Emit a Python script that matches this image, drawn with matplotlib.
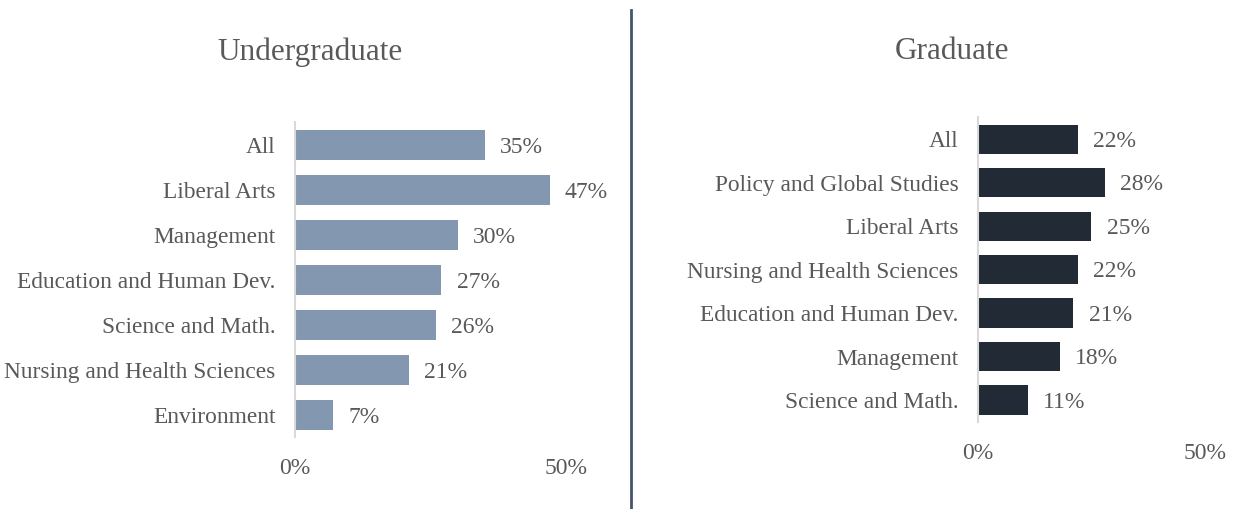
import matplotlib.pyplot as plt
from matplotlib.lines import Line2D

ug_labels = ['All', 'Liberal Arts', 'Management', 'Education and Human Dev.',
             'Science and Math.', 'Nursing and Health Sciences', 'Environment']
ug_values = [35, 47, 30, 27, 26, 21, 7]

gr_labels = ['All', 'Policy and Global Studies', 'Liberal Arts',
             'Nursing and Health Sciences', 'Education and Human Dev.',
             'Management', 'Science and Math.']
gr_values = [22, 28, 25, 22, 21, 18, 11]

plt.rcParams['font.family'] = ['Liberation Serif', 'DejaVu Serif']
text_color = '#595959'

fig = plt.figure(figsize=(12.37, 5.09), dpi=100)


def draw_panel(ax, labels, values, color):
    y = list(range(len(labels)))
    ax.barh(y, values, height=0.67, color=color)
    ax.set_ylim(len(labels) - 0.5, -0.5)
    ax.set_xlim(0, 50)
    ax.set_yticks(y)
    ax.set_yticklabels(labels, fontsize=16.8, color=text_color)
    ax.set_xticks([0, 50])
    ax.set_xticklabels(['0%', '50%'], fontsize=17, color=text_color)
    ax.tick_params(axis='y', length=0, pad=14)
    ax.tick_params(axis='x', length=0, pad=15)
    for s in ['top', 'right', 'bottom']:
        ax.spines[s].set_visible(False)
    ax.spines['left'].set_color('#D9D9D9')
    ax.spines['left'].set_linewidth(1.5)
    for yi, v in zip(y, values):
        ax.annotate(f'{v}%', (v, yi), xytext=(11, -1.5), textcoords='offset points',
                    va='center', ha='left', fontsize=17, color=text_color)


ax1 = fig.add_axes([0.2385, 0.1405, 0.219, 0.619])
draw_panel(ax1, ug_labels, ug_values, '#8497B0')

ax2 = fig.add_axes([0.7906, 0.1714, 0.1835, 0.598])
draw_panel(ax2, gr_labels, gr_values, '#222A35')

fig.text(0.2506, 0.898, 'Undergraduate', ha='center', va='center', fontsize=22.5, color=text_color)
fig.text(0.7696, 0.898, 'Graduate', ha='center', va='center', fontsize=22.5, color=text_color)

# divider between the two panels
fig.add_artist(Line2D([0.510, 0.510], [0.0, 0.98], color='#44546A', linewidth=2,
                      transform=fig.transFigure))

fig.savefig('out.png', dpi=100)
